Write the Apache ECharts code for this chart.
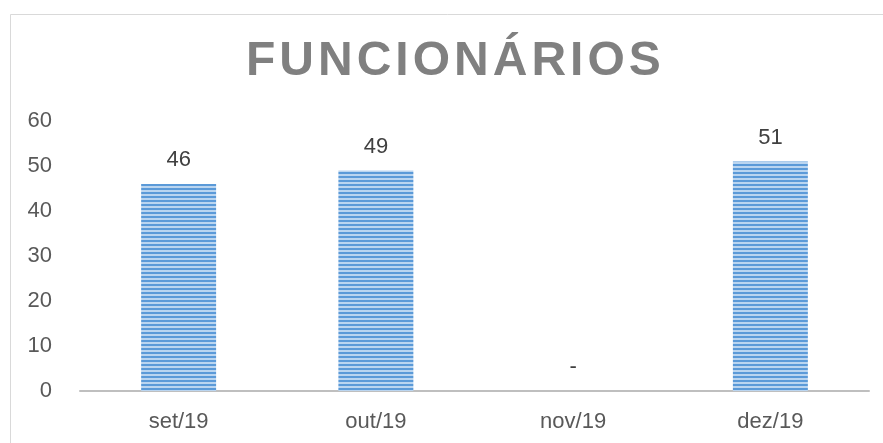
<!DOCTYPE html>
<html>
<head>
<meta charset="utf-8">
<script src="https://cdn.jsdelivr.net/npm/echarts@6/dist/echarts.min.js"></script>
<style>
  html, body { margin: 0; padding: 0; background: #fff; }
  #chart { width: 883px; height: 443px; }
</style>
</head>
<body>
<div id="chart"></div>
<script>
// dados do gráfico
var categories = ['set/19', 'out/19', 'nov/19', 'dez/19']
var funcionarios = [46, 49, 0, 51]
var yTicks = [0, 10, 20, 30, 40, 50, 60]

// padrão listrado das barras
function stripes () {
  var c = document.createElement('canvas')
  c.width = 4
  c.height = 4
  var ctx = c.getContext('2d')
  ctx.fillStyle = '#5b9ad8'
  ctx.fillRect(0, 0, 4, 2)
  ctx.fillStyle = '#bad5f0'
  ctx.fillRect(0, 2, 4, 2)
  return c
}

var chart = echarts.init(document.getElementById('chart'))
var option = {
  backgroundColor: '#fff',
  textStyle: { fontFamily: 'Liberation Sans, Arial, sans-serif' },
  title: {
    // espaçamento entre letras com hair space
    text: 'FUNCIONÁRIOS'.split('').join('\u200a'),
    left: 246,
    top: 38,
    padding: 0,
    textStyle: {
      fontFamily: 'Liberation Sans, Arial, sans-serif',
      fontSize: 48,
      fontWeight: 'bold',
      color: '#808080'
    }
  },
  graphic: [{
    type: 'rect',
    left: 8,
    top: 12,
    shape: { width: 900, height: 460 },
    style: { fill: 'none', stroke: '#d9d9d9', lineWidth: 1 },
    silent: true
  }],
  grid: { left: 80, right: 14, top: 121, bottom: 52 },
  xAxis: {
    type: 'category',
    data: categories,
    axisLine: { lineStyle: { color: '#bfbfbf', width: 2 } },
    axisTick: { show: false },
    axisLabel: { color: '#595959', fontSize: 22, margin: 20 }
  },
  yAxis: {
    type: 'value',
    min: yTicks[0],
    max: yTicks[yTicks.length - 1],
    interval: 10,
    splitLine: { show: false },
    axisLine: { show: false },
    axisTick: { show: false },
    axisLabel: { color: '#595959', fontSize: 22, margin: 28 }
  },
  series: [{
    type: 'bar',
    data: funcionarios,
    barWidth: '38%',
    itemStyle: {
      color: { image: stripes(), repeat: 'repeat' }
    },
    label: {
      show: true,
      position: 'top',
      distance: 13,
      color: '#404040',
      fontSize: 22,
      formatter: function (p) { return p.value === 0 ? '-' : p.value }
    }
  }]
}
chart.setOption(option)
</script>
</body>
</html>
